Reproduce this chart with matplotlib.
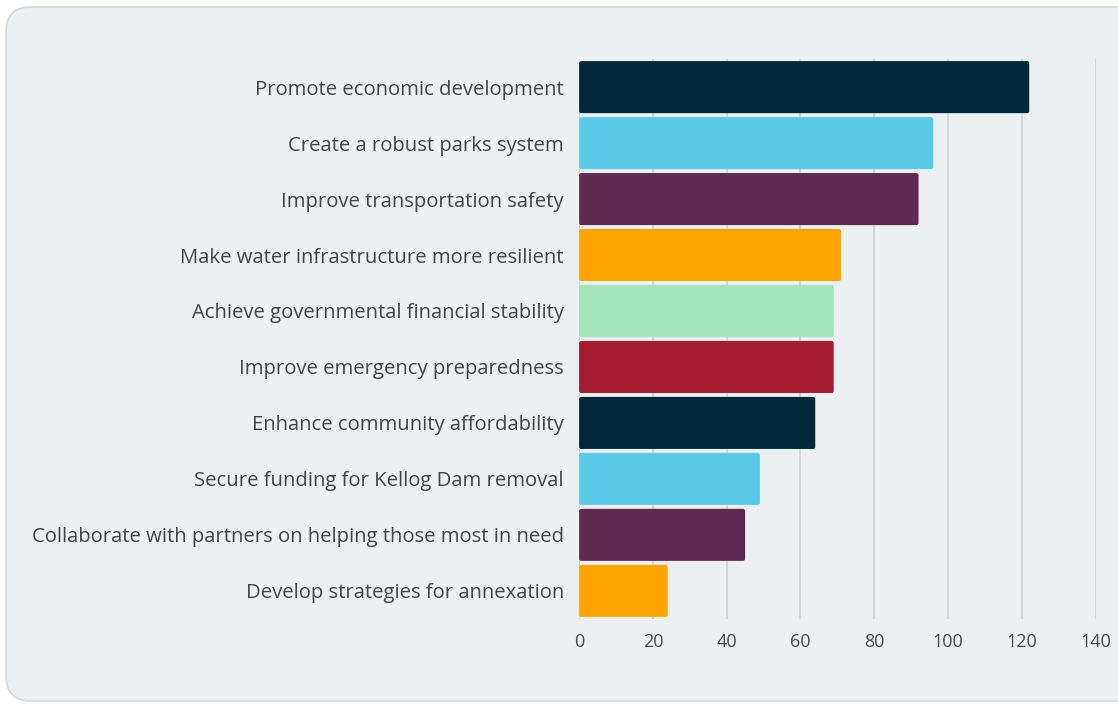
import matplotlib
matplotlib.use("Agg")
import matplotlib.pyplot as plt
from matplotlib.patches import FancyBboxPatch

# chart data, top to bottom
goals = ["Promote economic development",
         "Create a robust parks system",
         "Improve transportation safety",
         "Make water infrastructure more resilient",
         "Achieve governmental financial stability",
         "Improve emergency preparedness",
         "Enhance community affordability",
         "Secure funding for Kellog Dam removal",
         "Collaborate with partners on helping those most in need",
         "Develop strategies for annexation"]
votes = [122, 96, 92, 71, 69, 69, 64, 49, 45, 24]
colors = ["#002a3a", "#5bcae8", "#5e2b50", "#ffa400", "#a4e4b9",
          "#a51b30", "#002a3a", "#5bcae8", "#5e2b50", "#ffa400"]
xticks = [0, 20, 40, 60, 80, 100, 120, 140]

plt.rcParams['font.family'] = ['Open Sans', 'DejaVu Sans']

fig = plt.figure(figsize=(11.18, 7.04), dpi=100, facecolor="white")

# rounded panel behind the chart
panel = FancyBboxPatch((0.06, 0.03), 11.4, 6.94,
                       boxstyle="round,pad=0,rounding_size=0.25",
                       transform=fig.dpi_scale_trans,
                       facecolor="#ecf0f3", edgecolor="#d3d7db", linewidth=1.2,
                       zorder=-5)
fig.patches.append(panel)

ax = fig.add_axes([0.518, 0.121, 0.462, 0.795])
ax.set_facecolor("none")

pos = list(range(len(goals)))
bars = ax.barh(pos, votes, height=0.93, color=colors, zorder=3)

# swap in bars with slightly rounded corners
for b in bars:
    rb = FancyBboxPatch((b.get_x(), b.get_y()), b.get_width(), b.get_height(),
                        boxstyle="round,pad=0,rounding_size=0.6",
                        mutation_aspect=0.066,
                        facecolor=b.get_facecolor(), edgecolor="none", zorder=3)
    ax.add_patch(rb)
    b.set_visible(False)

ax.set_ylim(len(goals) - 0.5, -0.5)
ax.set_xlim(0, 140)
ax.set_xticks(xticks)
ax.set_yticks(pos)
ax.set_yticklabels(goals)

ax.grid(axis="x", color="#cbd0d5", linewidth=1.1, zorder=0)
for s in ax.spines.values():
    s.set_visible(False)

ax.tick_params(axis="y", length=0, pad=11, labelsize=14.6, labelcolor="#444444")
ax.tick_params(axis="x", length=0, pad=10, labelsize=13, labelcolor="#4a4a4a")

fig.savefig("out.png", dpi=100, facecolor="white")
